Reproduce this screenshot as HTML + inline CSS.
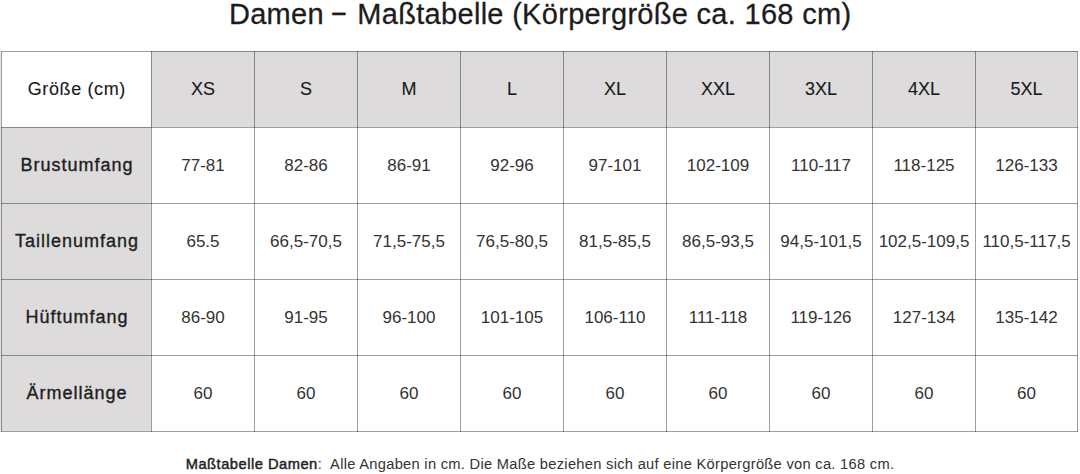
<!DOCTYPE html>
<html><head><meta charset="utf-8">
<style>
html,body{margin:0;padding:0;background:#fff;}
body{width:1080px;height:474px;position:relative;overflow:hidden;font-family:"Liberation Sans",sans-serif;color:#222;}
.g{position:absolute;background:#dddbdc;}
.v{position:absolute;width:1px;background:rgba(0,0,0,0.38);}
.h{position:absolute;height:1px;background:rgba(0,0,0,0.38);}
.c{position:absolute;display:flex;align-items:center;justify-content:center;white-space:nowrap;}
.c span{display:block;}
.hd{font-size:18px;color:#1a1a1a;-webkit-text-stroke:0.12px #1a1a1a;}
.g0 span{letter-spacing:0.63px;margin-right:-0.63px;}
.lb{font-size:18px;font-weight:normal;color:#1e1e1e;-webkit-text-stroke:0.35px #1e1e1e;}
.lb span{letter-spacing:1px;margin-right:-1px;}
.dt{font-size:17px;color:#333;}
.title{position:absolute;left:0;top:-2px;width:1080px;text-align:center;font-size:29px;line-height:32px;white-space:nowrap;letter-spacing:0.3px;text-indent:0.3px;-webkit-text-stroke:0.28px #1c1c1c;color:#1c1c1c;}
.foot{position:absolute;left:0;top:454px;width:1080px;text-align:center;font-size:14.7px;line-height:20px;white-space:pre;color:#333;letter-spacing:0.28px;}
.dash{display:inline-block;transform:translate(-1.5px,-3px) scale(0.82,1.2);}
.foot b{font-weight:normal;-webkit-text-stroke:0.45px #222;color:#222;letter-spacing:0.5px;}
</style></head><body>
<div class="title">Damen <span class="dash">–</span> Maßtabelle (Körpergröße ca. 168 cm)</div>
<div class="g" style="left:151px;top:51px;width:926px;height:76px"></div>
<div class="g" style="left:1px;top:127px;width:150px;height:304px"></div>
<div class="g" style="left:0;top:52px;width:1px;height:380px;background:#e4e4e4"></div>
<div class="v" style="left:1px;top:51px;height:381px"></div>
<div class="v" style="left:151px;top:51px;height:381px"></div>
<div class="v" style="left:254px;top:51px;height:381px"></div>
<div class="v" style="left:357px;top:51px;height:381px"></div>
<div class="v" style="left:460px;top:51px;height:381px"></div>
<div class="v" style="left:563px;top:51px;height:381px"></div>
<div class="v" style="left:666px;top:51px;height:381px"></div>
<div class="v" style="left:769px;top:51px;height:381px"></div>
<div class="v" style="left:872px;top:51px;height:381px"></div>
<div class="v" style="left:975px;top:51px;height:381px"></div>
<div class="v" style="left:1077px;top:51px;height:381px"></div>
<div class="h" style="top:51px;left:1px;width:1077px"></div>
<div class="h" style="top:127px;left:1px;width:1077px"></div>
<div class="h" style="top:203px;left:1px;width:1077px"></div>
<div class="h" style="top:279px;left:1px;width:1077px"></div>
<div class="h" style="top:355px;left:1px;width:1077px"></div>
<div class="h" style="top:431px;left:1px;width:1077px"></div>
<div class="c hd g0" style="left:2px;top:52px;width:149px;height:75px"><span>Größe (cm)</span></div>
<div class="c hd" style="left:152px;top:52px;width:102px;height:75px"><span>XS</span></div>
<div class="c hd" style="left:255px;top:52px;width:102px;height:75px"><span>S</span></div>
<div class="c hd" style="left:358px;top:52px;width:102px;height:75px"><span>M</span></div>
<div class="c hd" style="left:461px;top:52px;width:102px;height:75px"><span>L</span></div>
<div class="c hd" style="left:564px;top:52px;width:102px;height:75px"><span>XL</span></div>
<div class="c hd" style="left:667px;top:52px;width:102px;height:75px"><span>XXL</span></div>
<div class="c hd" style="left:770px;top:52px;width:102px;height:75px"><span>3XL</span></div>
<div class="c hd" style="left:873px;top:52px;width:102px;height:75px"><span>4XL</span></div>
<div class="c hd" style="left:976px;top:52px;width:101px;height:75px"><span>5XL</span></div>
<div class="c lb" style="left:2px;top:128px;width:149px;height:75px"><span>Brustumfang</span></div>
<div class="c dt" style="left:152px;top:128px;width:102px;height:75px"><span>77-81</span></div>
<div class="c dt" style="left:255px;top:128px;width:102px;height:75px"><span>82-86</span></div>
<div class="c dt" style="left:358px;top:128px;width:102px;height:75px"><span>86-91</span></div>
<div class="c dt" style="left:461px;top:128px;width:102px;height:75px"><span>92-96</span></div>
<div class="c dt" style="left:564px;top:128px;width:102px;height:75px"><span>97-101</span></div>
<div class="c dt" style="left:667px;top:128px;width:102px;height:75px"><span>102-109</span></div>
<div class="c dt" style="left:770px;top:128px;width:102px;height:75px"><span>110-117</span></div>
<div class="c dt" style="left:873px;top:128px;width:102px;height:75px"><span>118-125</span></div>
<div class="c dt" style="left:976px;top:128px;width:101px;height:75px"><span>126-133</span></div>
<div class="c lb" style="left:2px;top:204px;width:149px;height:75px"><span>Taillenumfang</span></div>
<div class="c dt" style="left:152px;top:204px;width:102px;height:75px"><span>65.5</span></div>
<div class="c dt" style="left:255px;top:204px;width:102px;height:75px"><span>66,5-70,5</span></div>
<div class="c dt" style="left:358px;top:204px;width:102px;height:75px"><span>71,5-75,5</span></div>
<div class="c dt" style="left:461px;top:204px;width:102px;height:75px"><span>76,5-80,5</span></div>
<div class="c dt" style="left:564px;top:204px;width:102px;height:75px"><span>81,5-85,5</span></div>
<div class="c dt" style="left:667px;top:204px;width:102px;height:75px"><span>86,5-93,5</span></div>
<div class="c dt" style="left:770px;top:204px;width:102px;height:75px"><span>94,5-101,5</span></div>
<div class="c dt" style="left:873px;top:204px;width:102px;height:75px"><span>102,5-109,5</span></div>
<div class="c dt" style="left:976px;top:204px;width:101px;height:75px"><span>110,5-117,5</span></div>
<div class="c lb" style="left:2px;top:280px;width:149px;height:75px"><span>Hüftumfang</span></div>
<div class="c dt" style="left:152px;top:280px;width:102px;height:75px"><span>86-90</span></div>
<div class="c dt" style="left:255px;top:280px;width:102px;height:75px"><span>91-95</span></div>
<div class="c dt" style="left:358px;top:280px;width:102px;height:75px"><span>96-100</span></div>
<div class="c dt" style="left:461px;top:280px;width:102px;height:75px"><span>101-105</span></div>
<div class="c dt" style="left:564px;top:280px;width:102px;height:75px"><span>106-110</span></div>
<div class="c dt" style="left:667px;top:280px;width:102px;height:75px"><span>111-118</span></div>
<div class="c dt" style="left:770px;top:280px;width:102px;height:75px"><span>119-126</span></div>
<div class="c dt" style="left:873px;top:280px;width:102px;height:75px"><span>127-134</span></div>
<div class="c dt" style="left:976px;top:280px;width:101px;height:75px"><span>135-142</span></div>
<div class="c lb" style="left:2px;top:356px;width:149px;height:75px"><span>Ärmellänge</span></div>
<div class="c dt" style="left:152px;top:356px;width:102px;height:75px"><span>60</span></div>
<div class="c dt" style="left:255px;top:356px;width:102px;height:75px"><span>60</span></div>
<div class="c dt" style="left:358px;top:356px;width:102px;height:75px"><span>60</span></div>
<div class="c dt" style="left:461px;top:356px;width:102px;height:75px"><span>60</span></div>
<div class="c dt" style="left:564px;top:356px;width:102px;height:75px"><span>60</span></div>
<div class="c dt" style="left:667px;top:356px;width:102px;height:75px"><span>60</span></div>
<div class="c dt" style="left:770px;top:356px;width:102px;height:75px"><span>60</span></div>
<div class="c dt" style="left:873px;top:356px;width:102px;height:75px"><span>60</span></div>
<div class="c dt" style="left:976px;top:356px;width:101px;height:75px"><span>60</span></div>
<div class="foot"><b>Maßtabelle Damen</b>:  Alle Angaben in cm. Die Maße beziehen sich auf eine Körpergröße von ca. 168 cm.</div>
</body></html>
